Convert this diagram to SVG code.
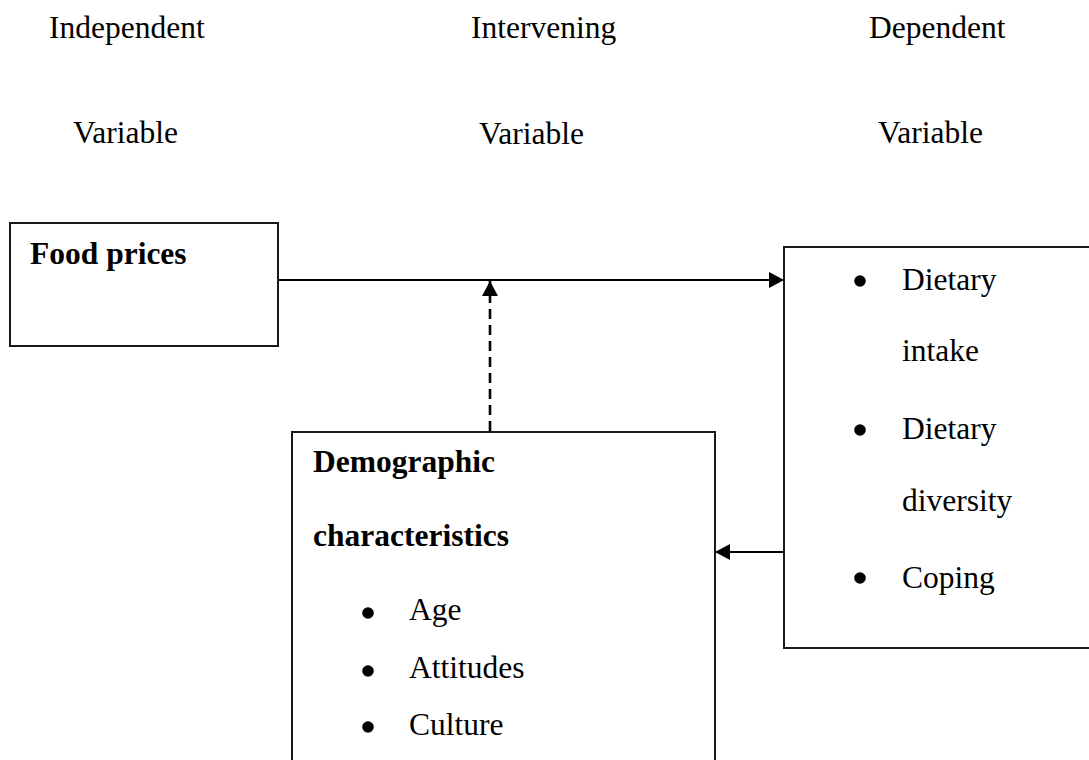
<svg xmlns="http://www.w3.org/2000/svg" width="1089" height="760" viewBox="0 0 1089 760">
<style>
text{font-family:"Liberation Serif","Times New Roman",serif;font-size:31.5px;fill:#000}
.b{font-weight:bold}
.box{fill:#fff;stroke:#1a1a1a;stroke-width:2}
.conn{stroke:#000;stroke-width:2;fill:none}
.dash{stroke:#000;stroke-width:2.6;fill:none;stroke-dasharray:10 6}
</style>
<defs>
<marker id="ah" viewBox="0 0 15 16" refX="15" refY="8" markerWidth="15" markerHeight="16" markerUnits="userSpaceOnUse" orient="auto">
<path d="M0,0 L15,8 L0,16 Z" fill="#000"/>
</marker>
</defs>
<rect width="1089" height="760" fill="#fff"/>
<g id="headers">
<text x="49" y="38">Independent</text>
<text x="73" y="143">Variable</text>
<text x="471" y="38">Intervening</text>
<text x="479" y="144">Variable</text>
<text x="869" y="38">Dependent</text>
<text x="878" y="143">Variable</text>
</g>
<g id="connectors">
<line class="conn" x1="278" y1="280" x2="784" y2="280" marker-end="url(#ah)"/>
<line class="dash" x1="490" y1="431" x2="490" y2="281" marker-end="url(#ah)"/>
<line class="conn" x1="784" y1="552" x2="715" y2="552" marker-end="url(#ah)"/>
</g>
<g id="food-prices">
<rect class="box" x="10" y="223" width="268" height="123"/>
<text class="b" x="30" y="264">Food prices</text>
</g>
<g id="dependent">
<rect class="box" x="784" y="247" width="320" height="401"/>
<circle cx="860" cy="281" r="5.8"/>
<text x="902" y="290">Dietary</text>
<text x="902" y="361">intake</text>
<circle cx="860" cy="430" r="5.8"/>
<text x="902" y="439">Dietary</text>
<text x="902" y="511">diversity</text>
<circle cx="860" cy="578" r="5.8"/>
<text x="902" y="588">Coping</text>
</g>
<g id="demographic">
<rect class="box" x="292" y="432" width="423" height="340"/>
<text class="b" x="313" y="472">Demographic</text>
<text class="b" x="313" y="546">characteristics</text>
<circle cx="368" cy="613" r="5.8"/>
<text x="409" y="620">Age</text>
<circle cx="368" cy="671" r="5.8"/>
<text x="409" y="678">Attitudes</text>
<circle cx="368" cy="727" r="5.8"/>
<text x="409" y="735">Culture</text>
</g>
</svg>
